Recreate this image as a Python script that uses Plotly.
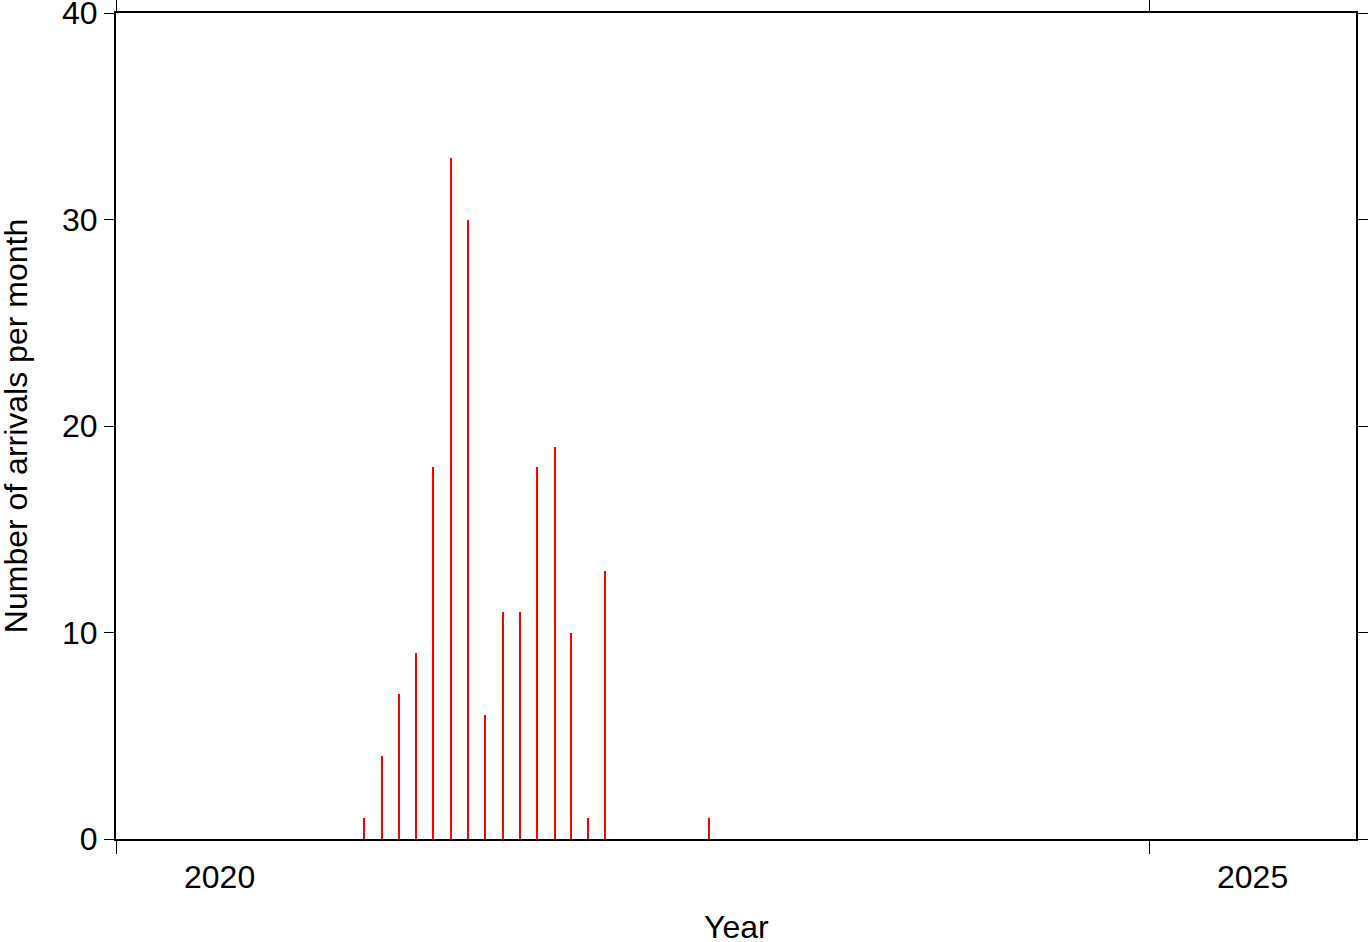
import plotly.graph_objects as go

months = ["2021-03-15", "2021-04-15", "2021-05-15", "2021-06-15", "2021-07-15",
          "2021-08-15", "2021-09-15", "2021-10-15", "2021-11-15", "2021-12-15",
          "2022-01-15", "2022-02-15", "2022-03-15", "2022-04-15", "2022-05-15",
          "2022-11-15"]
counts = [1, 4, 7, 9, 18, 33, 30, 6, 11, 11, 18, 19, 10, 1, 13, 1]

year_ticks = ["2020-01-01", "2025-01-01"]
year_labels = ["2020", "2025"]
year_label_pos = ["2020-07-02", "2025-07-02"]

FONT = "Liberation Sans, Arial, Helvetica, sans-serif"
bar_width_ms = 2.7 * 86400000

fig = go.Figure()
fig.add_trace(go.Bar(x=months, y=counts, width=bar_width_ms,
                     marker=dict(color="#ff0000", line=dict(width=0))))

for pos, lab in zip(year_label_pos, year_labels):
    fig.add_annotation(x=pos, y=-0.046, xref="x", yref="paper", text=lab,
                       showarrow=False, xanchor="center", yanchor="middle",
                       font=dict(family=FONT, size=32, color="black"))

fig.add_annotation(x=0.5, y=-0.107, xref="paper", yref="paper", text="Year",
                   showarrow=False, xanchor="center", yanchor="middle",
                   font=dict(family=FONT, size=32, color="black"))
fig.add_annotation(x=-0.0805, y=0.5, xref="paper", yref="paper",
                   text="Number of arrivals per month", textangle=-90,
                   showarrow=False, xanchor="center", yanchor="middle",
                   font=dict(family=FONT, size=32, color="black"))

fig.update_layout(
    width=1369, height=942,
    margin=dict(l=116, r=13, t=13, b=103, autoexpand=False),
    plot_bgcolor="white", paper_bgcolor="white",
    showlegend=False,
    font=dict(family=FONT, size=32, color="black"),
    bargap=0,
)
fig.update_xaxes(type="date", range=["2020-01-01", "2026-01-01"],
                 tickvals=year_ticks, ticktext=["", ""], automargin=False,
                 ticks="outside", ticklen=13, tickwidth=1, tickcolor="black",
                 showline=True, linewidth=2, linecolor="black", mirror="ticks",
                 showgrid=False, zeroline=False)
fig.update_yaxes(range=[0, 40], tickvals=[0, 10, 20, 30, 40], automargin=False,
                 ticks="outside", ticklen=10, tickwidth=1, tickcolor="black",
                 showline=True, linewidth=2, linecolor="black", mirror="ticks",
                 showgrid=False, zeroline=False, ticklabeloverflow="allow",
                 tickfont=dict(family=FONT, size=32, color="black"))

fig.write_html("out.html", config={"displayModeBar": False},
               post_script="document.body.style.margin='0';"
                           "document.body.style.overflow='hidden';")
